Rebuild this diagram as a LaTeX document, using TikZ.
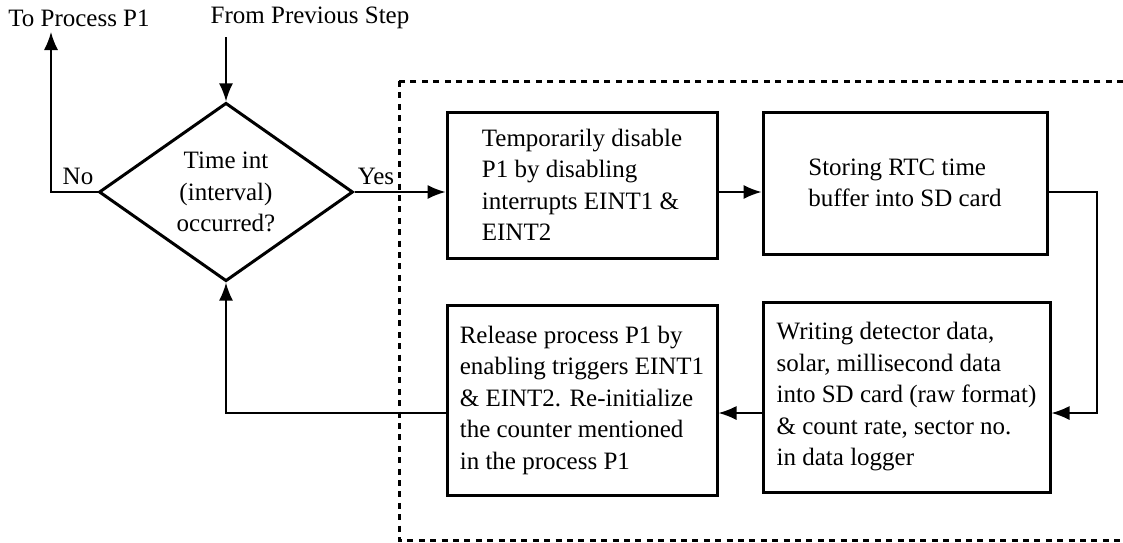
\documentclass[tikz,border=0pt]{standalone}
\usepackage{fontspec}
\setmainfont{Liberation Serif}
\usetikzlibrary{shapes.geometric}
\usetikzlibrary{positioning}
\usetikzlibrary{arrows.meta}
\tikzset{
    procbox/.style = {rectangle, line width=1.5pt, draw=black, align=left, inner sep=0pt},
    decnode/.style = {diamond, line width=1.5pt, draw=black, align=center, inner sep=0pt,
                      minimum width=127pt, minimum height=83.5pt},
    plain/.style = {inner sep=0pt, align=center},
    edgen/.style = {-{Latex[length=9pt,width=7pt]}, line width=0.75pt},
    dashbox/.style = {line width=1.5pt, dash pattern=on 3pt off 2.7pt},
    every picture/.style={font issue=\fontsize{12.5}{15.75}},
    font issue/.style={execute at begin picture={#1\selectfont}
  }
}
\begin{document}
\begin{tikzpicture}[x=0.5pt,y=-0.5pt]
\useasboundingbox (0,0) rectangle (1123,542);
\clip (0,0) rectangle (1123,542);
%
\draw[dashbox] (399,81) rectangle (1140,540);
%
\node[decnode] at (226,192) (dec) {Time int\\(interval)\\occurred?};
\node[procbox, minimum width=135pt, minimum height=73pt] at (582,185) (b1)
    {Temporarily disable\\P1 by disabling\\interrupts EINT1 \&\\EINT2};
\node[procbox, minimum width=142pt, minimum height=71pt] at (905,183) (b2)
    {Storing RTC time\\buffer into SD card};
\node[procbox, minimum width=143.5pt, minimum height=95pt] at (906.5,397) (b3)
    {Writing detector data,\\solar, millisecond data\\into SD card (raw format)\\\& count rate, sector no.\\in data logger};
\node[procbox, minimum width=135pt, minimum height=95pt] at (582,400) (b4)
    {Release process P1 by\\enabling triggers EINT1\\\& EINT2. Re-initialize\\the counter mentioned\\in the process P1};
%
\node[plain] at (310,18) (prev) {From Previous Step};
\node[plain] at (79,18) (tp) {To Process P1};
\node[plain] at (78,176) (no) {No};
\node[plain] at (376,176) (yes) {Yes};
\coordinate (up) at (51,32);
\coordinate (turn) at (1097,413);
%
\draw[edgen] (dec |- prev.south) ++(0,8) -- (dec.north);
\draw[edgen] (dec.west) -| (up);
\draw[edgen] (dec.east) -- (b1.west |- dec.east);
\draw[edgen] (b1.east |- dec.east) -- (b2.west |- dec.east);
\draw[edgen] (b2.east |- dec.east) -| (turn) -- (b3.east |- turn);
\draw[edgen] (b3.west |- turn) -- (b4.east |- turn);
\draw[edgen] (b4.west |- turn) -| (dec.south);

\end{tikzpicture}
\end{document}
